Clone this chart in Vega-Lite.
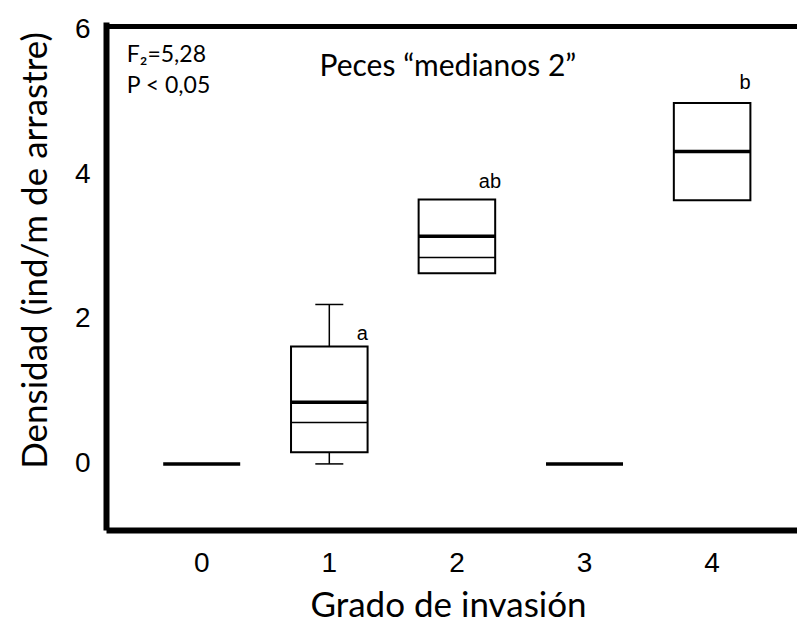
{
  "$schema": "https://vega.github.io/schema/vega-lite/v6.json",
  "autosize": "none",
  "width": 691,
  "height": 508,
  "padding": {"left": 106, "top": 22, "right": 0, "bottom": 93},
  "background": "white",
  "config": {
    "view": {"stroke": null},
    "axis": {"grid": false, "ticks": false, "domainColor": "black", "labelColor": "black", "titleColor": "black", "labelFont": "Liberation Sans", "titleFont": "Lato", "titleFontWeight": "normal"}
  },
  "datasets": {
    "boxes": [
      {"g": "0", "med": 0, "top": 6.036},
      {"g": "1", "lo": 0, "q1": 0.16, "mean": 0.57, "med": 0.85, "q3": 1.62, "hi": 2.2, "lab": "a", "laby": 1.71},
      {"g": "2", "q1": 2.63, "mean": 2.85, "med": 3.14, "q3": 3.65, "lab": "ab", "laby": 3.81},
      {"g": "3", "med": 0},
      {"g": "4", "q1": 3.64, "med": 4.31, "q3": 4.98, "lab": "b", "laby": 5.17}
    ],
    "notes": [
      {"g": "0", "y": 5.54, "t": "F₂=5,28"},
      {"g": "0", "y": 5.12, "t": "P < 0,05"}
    ],
    "heading": [
      {"g": "2", "y": 5.35, "t": "Peces “medianos 2”"}
    ]
  },
  "data": {"name": "boxes"},
  "layer": [
    {
      "transform": [{"filter": "isValid(datum.hi)"}],
      "mark": {"type": "rule", "color": "black", "strokeWidth": 1.5},
      "encoding": {
        "x": {"field": "g", "type": "nominal", "sort": ["0", "1", "2", "3", "4"],
          "scale": {"domain": ["0", "1", "2", "3", "4"], "paddingInner": 0.4, "paddingOuter": 0.4076, "align": 0.552},
          "axis": {"orient": "bottom", "title": "Grado de invasión", "domainWidth": 6, "labelAngle": 0, "labelFontSize": 28, "labelPadding": 19, "titleFontSize": 35, "titleX": 342, "titleY": 86, "titleBaseline": "alphabetic", "titleAlign": "center"}},
        "y": {"field": "q3", "type": "quantitative", "scale": {"domain": [-0.912, 6.098], "nice": false, "zero": false},
          "axis": {"values": [0, 2, 4, 6], "format": "d", "title": "Densidad (ind/m de arrastre)", "domainWidth": 6, "labelFontSize": 28, "labelPadding": 16, "titleFontSize": 35, "titleX": -60, "titleY": 228, "titleAlign": "center", "titleBaseline": "alphabetic", "titleAngle": -90}},
        "y2": {"field": "hi"}
      }
    },
    {
      "transform": [{"filter": "isValid(datum.top)"}],
      "mark": {"type": "rule", "color": "black", "strokeWidth": 5, "x": {"expr": "0"}, "x2": {"expr": "width"}},
      "encoding": {"y": {"field": "top", "type": "quantitative"}}
    },
    {
      "transform": [{"filter": "isValid(datum.lo)"}],
      "mark": {"type": "rule", "color": "black", "strokeWidth": 1.5},
      "encoding": {
        "x": {"field": "g", "type": "nominal"},
        "y": {"field": "lo", "type": "quantitative"},
        "y2": {"field": "q1"}
      }
    },
    {
      "transform": [{"filter": "isValid(datum.hi)"}],
      "mark": {"type": "tick", "color": "black", "opacity": 1, "size": 28, "thickness": 1.5, "orient": "horizontal"},
      "encoding": {"x": {"field": "g", "type": "nominal"}, "y": {"field": "hi", "type": "quantitative"}}
    },
    {
      "transform": [{"filter": "isValid(datum.lo)"}],
      "mark": {"type": "tick", "color": "black", "opacity": 1, "size": 28, "thickness": 1.5, "orient": "horizontal"},
      "encoding": {"x": {"field": "g", "type": "nominal"}, "y": {"field": "lo", "type": "quantitative"}}
    },
    {
      "transform": [{"filter": "isValid(datum.q1)"}],
      "mark": {"type": "bar", "fill": "white", "stroke": "black", "strokeWidth": 2, "opacity": 1},
      "encoding": {"x": {"field": "g", "type": "nominal"}, "y": {"field": "q1", "type": "quantitative"}, "y2": {"field": "q3"}}
    },
    {
      "transform": [{"filter": "isValid(datum.mean)"}],
      "mark": {"type": "tick", "color": "black", "opacity": 1, "size": 76, "thickness": 1.5, "orient": "horizontal"},
      "encoding": {"x": {"field": "g", "type": "nominal"}, "y": {"field": "mean", "type": "quantitative"}}
    },
    {
      "mark": {"type": "tick", "color": "black", "opacity": 1, "size": 77, "thickness": 3.5, "orient": "horizontal"},
      "encoding": {"x": {"field": "g", "type": "nominal"}, "y": {"field": "med", "type": "quantitative"}}
    },
    {
      "transform": [{"filter": "isValid(datum.lab)"}],
      "mark": {"type": "text", "font": "Liberation Sans", "fontSize": 20, "color": "black", "align": "center", "baseline": "alphabetic", "dx": 33},
      "encoding": {"x": {"field": "g", "type": "nominal"}, "y": {"field": "laby", "type": "quantitative"}, "text": {"field": "lab"}}
    },
    {
      "data": {"name": "notes"},
      "mark": {"type": "text", "font": "Lato", "fontSize": 23, "color": "black", "align": "left", "baseline": "alphabetic", "dx": -75},
      "encoding": {"x": {"field": "g", "type": "nominal"}, "y": {"field": "y", "type": "quantitative"}, "text": {"field": "t"}}
    },
    {
      "data": {"name": "heading"},
      "mark": {"type": "text", "font": "Lato", "fontSize": 30, "color": "black", "align": "center", "baseline": "alphabetic", "dx": -9},
      "encoding": {"x": {"field": "g", "type": "nominal"}, "y": {"field": "y", "type": "quantitative"}, "text": {"field": "t"}}
    }
  ]
}
